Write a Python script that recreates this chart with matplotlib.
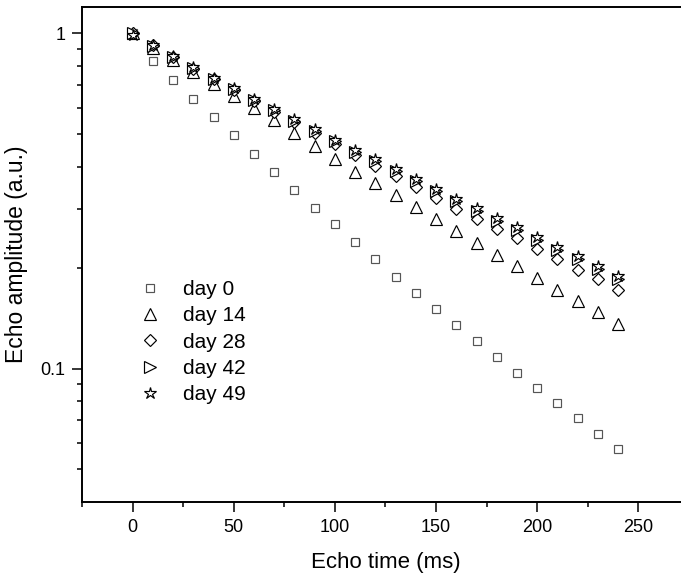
import matplotlib
matplotlib.use('Agg')
import matplotlib.pyplot as plt
from matplotlib.ticker import FixedLocator, NullFormatter, FixedFormatter

plt.rcParams['font.family'] = ['Liberation Sans', 'DejaVu Sans']

echo_time = [0, 10, 20, 30, 40, 50, 60, 70, 80, 90, 100, 110, 120,
             130, 140, 150, 160, 170, 180, 190, 200, 210, 220, 230, 240]

day_0 = [1.0, 0.824, 0.725, 0.638, 0.563, 0.496, 0.436, 0.387, 0.342, 0.302,
         0.269, 0.239, 0.212, 0.188, 0.168, 0.151, 0.135, 0.121, 0.108, 0.0971,
         0.0876, 0.079, 0.071, 0.0639, 0.0576]
day_14 = [1.0, 0.903, 0.834, 0.764, 0.706, 0.648, 0.598, 0.550, 0.503, 0.462,
          0.423, 0.387, 0.358, 0.330, 0.303, 0.279, 0.257, 0.237, 0.218, 0.202,
          0.186, 0.172, 0.159, 0.147, 0.136]
day_28 = [1.0, 0.921, 0.851, 0.784, 0.728, 0.678, 0.629, 0.584, 0.543, 0.505,
          0.469, 0.434, 0.403, 0.374, 0.348, 0.323, 0.300, 0.280, 0.261, 0.245,
          0.227, 0.212, 0.197, 0.185, 0.172]
day_42 = [1.0, 0.918, 0.851, 0.787, 0.729, 0.681, 0.631, 0.589, 0.549, 0.512,
          0.476, 0.443, 0.415, 0.388, 0.362, 0.338, 0.315, 0.296, 0.276, 0.259,
          0.242, 0.226, 0.212, 0.198, 0.185]
day_49 = [0.99, 0.924, 0.857, 0.791, 0.735, 0.687, 0.638, 0.596, 0.555, 0.518,
          0.482, 0.449, 0.422, 0.394, 0.368, 0.343, 0.320, 0.301, 0.281, 0.264,
          0.247, 0.231, 0.216, 0.202, 0.189]

series = [
    ('day 0', day_0, 's', 5.5, '#555555'),
    ('day 14', day_14, '^', 9.0, 'black'),
    ('day 28', day_28, 'D', 6.2, 'black'),
    ('day 42', day_42, '>', 8.5, 'black'),
    ('day 49', day_49, '*', 9.0, 'black'),
]

fig = plt.figure(figsize=(6.81, 5.75), dpi=100)
ax = fig.add_axes([0.1204, 0.127, 0.8913, 0.8613])

for label, values, marker, ms, color in series:
    ax.plot(echo_time, values, linestyle='none', marker=marker, markersize=ms,
            markerfacecolor='white', markeredgecolor=color, markeredgewidth=0.85,
            label=label)

ax.set_yscale('log')
ax.set_xlim(-25, 275)
ax.set_ylim(0.04, 1.2)

ax.yaxis.set_major_locator(FixedLocator([0.1, 1]))
ax.yaxis.set_major_formatter(FixedFormatter(['0.1', '1']))
ax.yaxis.set_minor_locator(FixedLocator([0.05, 0.06, 0.07, 0.08, 0.09,
                                         0.2, 0.3, 0.4, 0.5, 0.6, 0.7, 0.8, 0.9]))
ax.yaxis.set_minor_formatter(NullFormatter())
ax.xaxis.set_major_locator(FixedLocator([0, 50, 100, 150, 200, 250]))
ax.xaxis.set_minor_locator(FixedLocator([-25, 25, 75, 125, 175, 225, 275]))

ax.tick_params(which='major', direction='out', length=7, width=1.1,
               labelsize=13, pad=5)
ax.tick_params(which='minor', direction='out', length=3.5, width=1.1)
for side in ['left', 'bottom', 'top']:
    ax.spines[side].set_linewidth(1.4)
ax.spines['right'].set_visible(False)

ax.set_xlabel('Echo time (ms)', fontsize=16, labelpad=12)
ax.set_ylabel('Echo amplitude (a.u.)', fontsize=16.5, labelpad=9)

ax.legend(loc='upper left', bbox_to_anchor=(0.0914, 0.448), frameon=False,
          fontsize=15, handlelength=1.2, handletextpad=1.0, labelspacing=0.35,
          borderpad=0, borderaxespad=0, numpoints=1)

fig.savefig('out.png', dpi=100)
plt.close()
